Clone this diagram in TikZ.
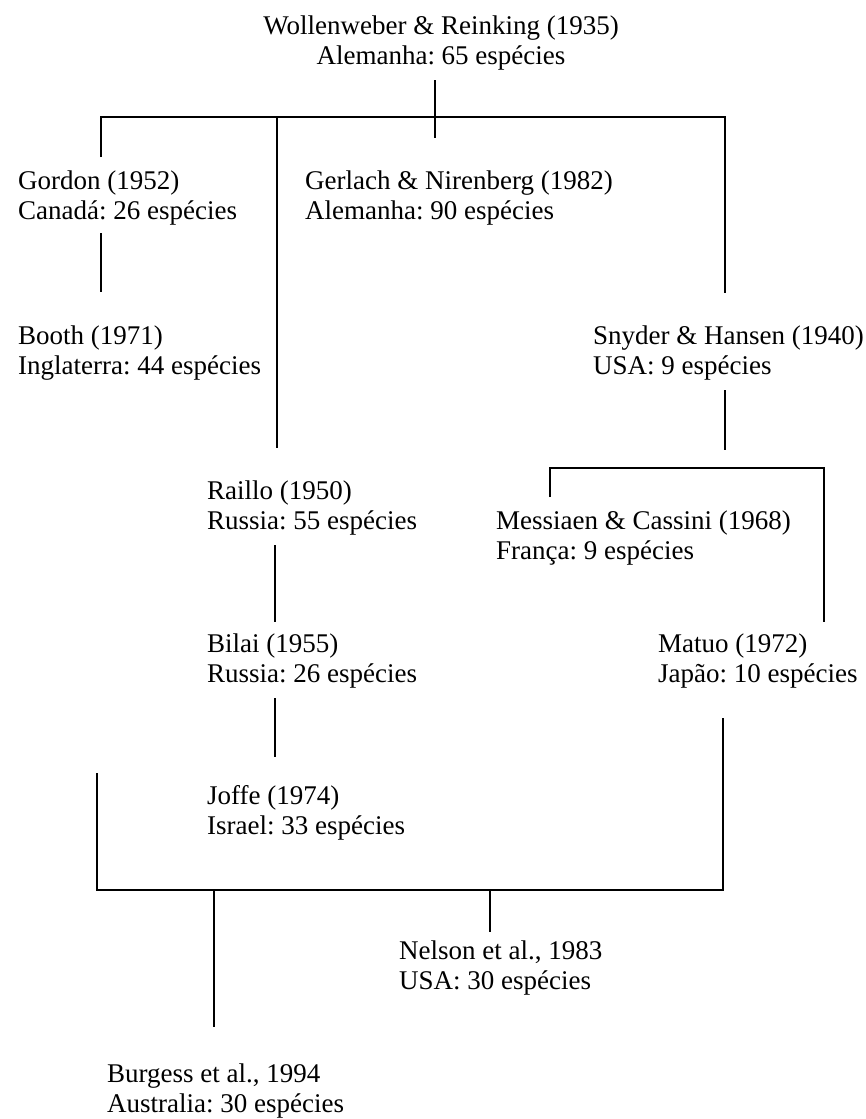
\documentclass[tikz,border=0pt]{standalone}
\usepackage{fontspec}
\setmainfont{Liberation Serif}
\frenchspacing
\begin{document}
\begin{tikzpicture}[x=1pt, y=-1pt,
    entry/.style={anchor=west, align=left, inner sep=0pt, font=\fontsize{27}{30}\selectfont},
    link/.style={line width=1.4pt}]
    \useasboundingbox (0,0) rectangle (865,1119);

    % Root
    \node[entry, anchor=center, align=center] (wollenweber) at (441,43) {Wollenweber \& Reinking (1935)\\Alemanha: 65 espécies};

    % First level
    \node[entry] (gordon) at (18,198) {Gordon (1952)\\Canadá: 26 espécies};
    \node[entry] (gerlach) at (305,198) {Gerlach \& Nirenberg (1982)\\Alemanha: 90 espécies};
    \node[entry] (booth) at (18,353) {Booth (1971)\\Inglaterra: 44 espécies};
    \node[entry] (snyder) at (593,353) {Snyder \& Hansen (1940)\\USA: 9 espécies};

    % Middle branch
    \node[entry] (raillo) at (207,508) {Raillo (1950)\\Russia: 55 espécies};
    \node[entry] (messiaen) at (496,538) {Messiaen \& Cassini (1968)\\França: 9 espécies};
    \node[entry] (bilai) at (207,661) {Bilai (1955)\\Russia: 26 espécies};
    \node[entry] (matuo) at (658,661) {Matuo (1972)\\Japão: 10 espécies};
    \node[entry] (joffe) at (207,813) {Joffe (1974)\\Israel: 33 espécies};

    % Bottom
    \node[entry] (nelson) at (399,968) {Nelson et al., 1983\\USA: 30 espécies};
    \node[entry] (burgess) at (107,1091) {Burgess et al., 1994\\Australia: 30 espécies};

    % Junction points
    \coordinate (rootA) at (435,80);
    \coordinate (rootB) at (435,138);
    \coordinate (barL) at (101,117);
    \coordinate (barM) at (277,117);
    \coordinate (barR) at (725,117);
    \coordinate (gordonA) at (101,157);
    \coordinate (gordonB) at (101,233);
    \coordinate (boothA) at (101,292);
    \coordinate (raillo0) at (277,448);
    \coordinate (snyderA) at (725,293);
    \coordinate (snyderB) at (725,390);
    \coordinate (forkA) at (725,450);
    \coordinate (forkL) at (550,468);
    \coordinate (forkR) at (824,468);
    \coordinate (messiaen0) at (550,497);
    \coordinate (matuo0) at (824,622);
    \coordinate (raillo1) at (275,545);
    \coordinate (bilai0) at (275,622);
    \coordinate (bilai1) at (275,698);
    \coordinate (joffe0) at (275,757);
    \coordinate (baseL) at (97,890);
    \coordinate (baseR) at (723,890);
    \coordinate (joffe1) at (97,773);
    \coordinate (matuo1) at (723,718);
    \coordinate (nelsonA) at (490,890);
    \coordinate (nelson0) at (490,932);
    \coordinate (burgessA) at (214,890);
    \coordinate (burgess0) at (214,1027);

    % Top bracket
    \draw[link] (rootA) -- (rootB);
    \draw[link] (gordonA) -- (barL) -- (barR) -- (snyderA);
    \draw[link] (barM) -- (raillo0);

    % Left chain
    \draw[link] (gordonB) -- (boothA);

    % Right chain
    \draw[link] (snyderB) -- (forkA);
    \draw[link] (messiaen0) -- (forkL) -- (forkR) -- (matuo0);

    % Middle chain
    \draw[link] (raillo1) -- (bilai0);
    \draw[link] (bilai1) -- (joffe0);

    % Bottom bracket
    \draw[link] (joffe1) -- (baseL) -- (baseR) -- (matuo1);
    \draw[link] (nelsonA) -- (nelson0);
    \draw[link] (burgessA) -- (burgess0);

\end{tikzpicture}
\end{document}
